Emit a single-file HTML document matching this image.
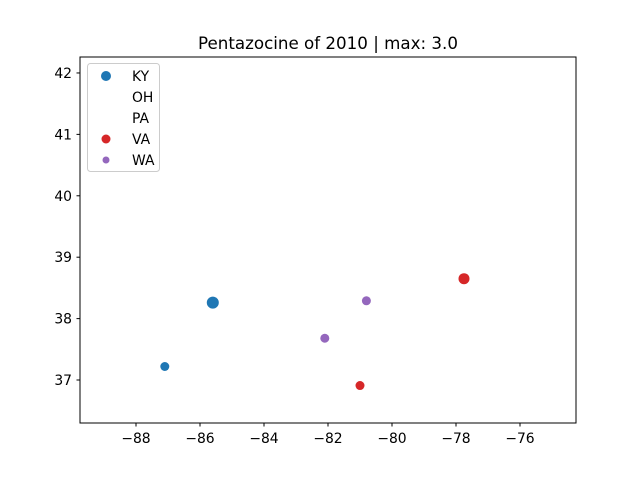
<!DOCTYPE html>
<html><head><meta charset="utf-8"><style>
body{margin:0;background:#fff;font-family:"DejaVu Sans","Liberation Sans",sans-serif;}
</style></head><body>
<svg id="chart" width="640" height="476" xmlns="http://www.w3.org/2000/svg" font-family="DejaVu Sans, Liberation Sans, sans-serif">
<rect width="640" height="476" fill="#fff"/>
<text x="328" y="49" text-anchor="middle" font-size="16.7">Pentazocine of 2010 | max: 3.0</text>
<g id="marks"></g>
<rect x="80" y="57" width="496" height="366" fill="none" stroke="#000" stroke-width="1"/>
<g id="xt"></g><g id="yt"></g>
<g id="legend"></g>
</svg>
<script>
const states=["KY","KY","VA","VA","WA","WA"];
const lons=[-85.6,-87.1,-77.75,-81.0,-80.8,-82.1];
const lats=[38.26,37.22,38.65,36.91,38.29,37.68];
const sizes=[3.0,1.5,2.5,1.5,1.5,1.5];
const xTicks=[-88,-86,-84,-82,-80,-78,-76];
const yTicks=[37,38,39,40,41,42];
const legendLabels=["KY","OH","PA","VA","WA"];
const legendColors=["#1f77b4",null,null,"#d62728","#9467bd"];
const legendR=[5,0,0,4.5,3.5];
const colorOf={KY:"#1f77b4",VA:"#d62728",WA:"#9467bd"};
const X0=-89.75,X1=-74.25,Y0=36.30,Y1=42.26;
const sx=v=>80+(v-X0)/(X1-X0)*496;
const sy=v=>423-(v-Y0)/(Y1-Y0)*366;
const NS="http://www.w3.org/2000/svg";
function mk(t,a,p){const e=document.createElementNS(NS,t);for(const k in a)e.setAttribute(k,a[k]);p.appendChild(e);return e;}
const marks=document.getElementById('marks');
states.forEach((s,i)=>{const c=mk('circle',{cx:sx(lons[i]),cy:sy(lats[i]),r:3.0+sizes[i]*1.0,fill:colorOf[s]},marks);

});
const xt=document.getElementById('xt');
xTicks.forEach(v=>{const x=sx(v);mk('line',{x1:x,x2:x,y1:423,y2:426.5,stroke:'#000'},xt);
const t=mk('text',{x:x,y:443,'text-anchor':'middle','font-size':'13.9'},xt);t.textContent='\u2212'+Math.abs(v);

});
const yt=document.getElementById('yt');
yTicks.forEach(v=>{const y=sy(v);mk('line',{x1:76.5,x2:80,y1:y,y2:y,stroke:'#000'},yt);
const t=mk('text',{x:72,y:y+5,'text-anchor':'end','font-size':'13.9'},yt);t.textContent=v;

});
const lg=document.getElementById('legend');
mk('rect',{x:87.5,y:63.5,width:72,height:108,rx:3,fill:'#fff','fill-opacity':0.8,stroke:'#ccc'},lg);
legendLabels.forEach((l,i)=>{const y=76+i*21;
if(legendColors[i])mk('circle',{cx:106,cy:y,r:legendR[i],fill:legendColors[i]},lg);
const t=mk('text',{x:132,y:y+5,'font-size':'13.9'},lg);t.textContent=l;

});
</script>
</body></html>
